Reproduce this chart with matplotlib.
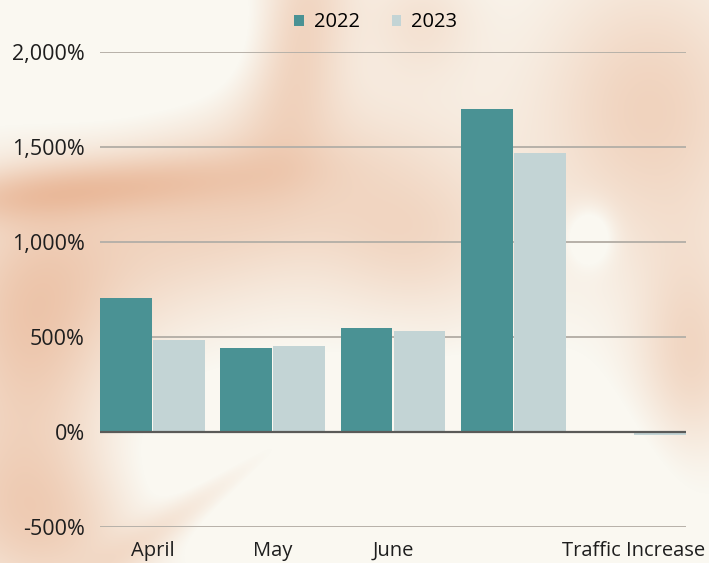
import numpy as np
import matplotlib.pyplot as plt
from matplotlib.colors import to_rgb

categories = ["April", "May", "June", "", "Traffic Increase"]
vals_2022 = [705, 442, 547, 1698, 0]
vals_2023 = [482, 451, 531, 1467, -16]
yticks = [-500, 0, 500, 1000, 1500, 2000]

teal = "#4a9294"
pale = "#c3d4d5"

plt.rcParams['font.family'] = ['Open Sans', 'DejaVu Sans']

fig = plt.figure(figsize=(7.09, 5.63), dpi=100)

# soft blurred background (decoration only)
W, H = 709, 563
yy, xx = np.mgrid[0:H, 0:W]
blobs = [
    # cx, cy, sx, sy, angle(deg), strength
    (210, 210, 150, 70, -20, 0.55),
    (60, 190, 130, 20, -5, 0.55),
    (30, 340, 60, 100, 0, 0.6),
    (300, 30, 35, 80, 10, 0.6),
    (420, 20, 40, 40, 0, 0.3),
    (650, 110, 80, 100, 0, 0.55),
    (690, 360, 40, 80, 0, 0.5),
    (40, 520, 80, 60, 20, 0.6),
    (230, 480, 100, 14, -35, 0.45),
    (420, 240, 70, 60, 0, 0.4),
    (590, 235, 16, 20, 0, -0.45),
    (400, 480, 170, 60, 0, -0.6),
    (100, 40, 120, 50, 0, -0.5),
]
m = np.zeros((H, W))
for cx, cy, sx, sy, ang, s in blobs:
    a = np.deg2rad(ang)
    dx, dy = xx - cx, yy - cy
    u = dx * np.cos(a) + dy * np.sin(a)
    v = -dx * np.sin(a) + dy * np.cos(a)
    m += s * np.exp(-0.5 * ((u / sx) ** 2 + (v / sy) ** 2))
m = np.clip(m, 0, 1)
base = np.array(to_rgb("#faf8f1"))
peach = np.array(to_rgb("#e9b696"))
img = base[None, None, :] * (1 - m[..., None]) + peach[None, None, :] * m[..., None]
bg = fig.add_axes([0, 0, 1, 1], zorder=0)
bg.imshow(img, aspect='auto')
bg.axis('off')

ax = fig.add_axes([100 / W, 1 - 527 / H, 586 / W, 475 / H], zorder=1)
ax.patch.set_alpha(0)

x = np.arange(len(categories))
width = 0.43
gap = 0.006
ax.bar(x - width / 2 - gap, vals_2022, width, color=teal, label='2022', zorder=3)
ax.bar(x + width / 2 + gap, vals_2023, width, color=pale, label='2023', zorder=3)

half = width + gap
ax.set_xlim(-half, len(categories) - 1 + half)
ax.set_ylim(-500, 2000)
ax.set_yticks(yticks)
ax.set_yticklabels([f"{v:,}%" for v in yticks])
ax.set_xticks(x)
ax.set_xticklabels(categories)
ax.tick_params(length=0, labelsize=14.5, colors="#1e1e1e")
ax.tick_params(axis='y', labelsize=15.5, pad=11)
ax.tick_params(axis='x', pad=10)

for v in yticks:
    if v == 0:
        ax.axhline(0, color="#5a5a58", lw=1.6, zorder=4)
    else:
        ax.axhline(v, color="#b7b1a9", lw=1.4, zorder=2)

for s in ax.spines.values():
    s.set_visible(False)

fig.legend(loc='upper center', bbox_to_anchor=(0.53, 1.01), ncol=2, frameon=False,
           fontsize=14.5, handlelength=0.45, handleheight=0.45, handletextpad=0.5,
           columnspacing=1.6)

fig.savefig("out.png", dpi=100)
